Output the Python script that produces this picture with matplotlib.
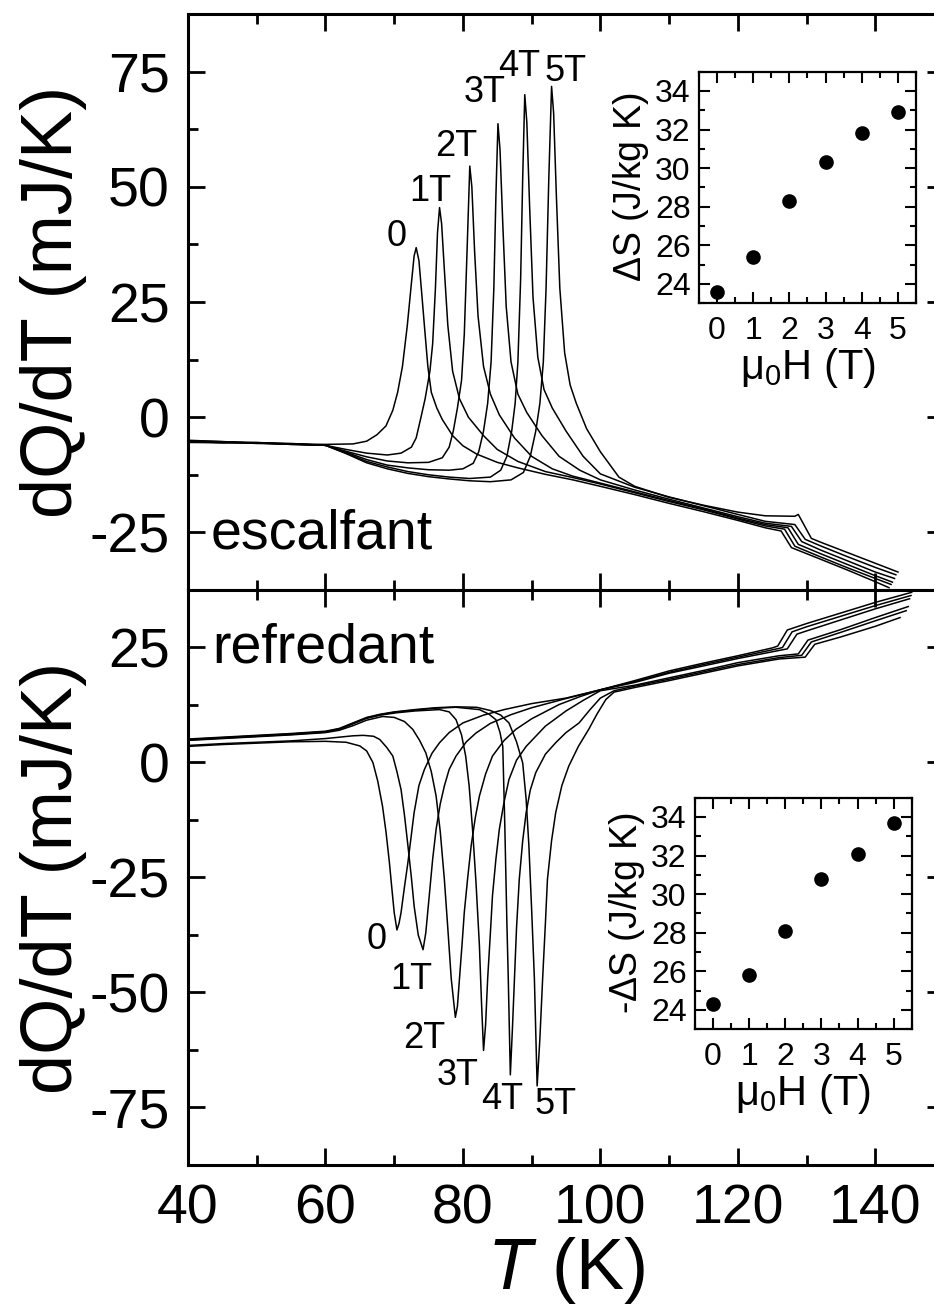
import matplotlib
matplotlib.use('Agg')
import matplotlib.pyplot as plt
from matplotlib.ticker import MultipleLocator

plt.rcParams['font.family'] = ['Liberation Sans', 'DejaVu Sans']
plt.rcParams['mathtext.fontset'] = 'custom'
plt.rcParams['mathtext.rm'] = 'Liberation Sans'
plt.rcParams['mathtext.it'] = 'Liberation Sans:italic'
plt.rcParams['axes.unicode_minus'] = False

# ---- heating (escalfant), dQ/dT in mJ/K vs T in K ----
heat_T_0 = [40, 45, 50, 55, 60, 64, 66, 67.5, 68.8, 69.8, 70.5, 71.2, 71.9, 72.5, 72.9, 73.2,
            73.6, 74.0, 74.4, 74.9, 75.4, 76.2, 77.0, 78.5, 80, 82, 85, 88, 92, 96, 100, 105,
            110, 115, 120, 124, 126.3, 127.8, 132, 136, 140, 142]
heat_Q_0 = [-5.3, -5.5, -5.6, -5.8, -5.9, -5.8, -5.2, -3.8, -1.9, 1.5, 5.4, 11, 19.8, 29, 35, 36.8,
            34, 27, 19.8, 11, 5.4, 2.0, -0.5, -4.0, -6.2, -8.0, -9.8, -11.0, -12.4, -13.6, -15.0, -16.8,
            -18.7, -20.5, -22.4, -24.0, -24.7, -28.3, -30.8, -33.2, -35.7, -37.0]

heat_T_1 = [40, 45, 50, 55, 60, 63, 66, 69, 71, 72.5, 73.2, 73.9, 74.5, 75.2, 75.6, 76.0, 76.3,
            76.6, 76.9, 77.3, 77.8, 78.5, 79.5, 80.8, 83, 85, 88, 92, 96, 100, 105, 110, 115, 120,
            124, 126.8, 128.3, 132, 136, 140, 142.3]
heat_Q_1 = [-5.2, -5.4, -5.6, -5.8, -6.1, -7.0, -7.8, -8.2, -7.8, -6.5, -4.5, 0, 4, 10, 16, 28, 40,
            45.5, 42, 32, 20, 10, 4, 0, -4, -7, -9.6, -11.8, -13.1, -14.5, -16.4, -18.3, -20.1, -22.1,
            -23.6, -24.3, -28.0, -30.3, -32.7, -35.0, -36.3]

heat_T_2 = [40, 45, 50, 55, 60, 63, 66, 69, 72, 75, 77, 78, 78.6, 79.2, 79.8, 80.2, 80.6, 81.0,
            81.3, 81.7, 82.2, 83, 84, 85.3, 87.5, 90, 93, 96, 100, 105, 110, 115, 120, 124, 127.3,
            128.8, 132, 136, 140, 142.5]
heat_Q_2 = [-5.0, -5.3, -5.5, -5.7, -6.1, -7.4, -8.6, -9.5, -9.9, -9.8, -8.8, -6.5, -3, 2, 8, 18,
            36, 54.5, 50, 36, 22, 11, 5, 0.5, -4.5, -8.5, -11.2, -12.8, -14.3, -16.2, -18.1, -19.9,
            -21.9, -23.3, -24.0, -27.6, -29.6, -32.0, -34.4, -35.8]

heat_T_3 = [40, 45, 50, 55, 60, 63, 66, 69, 72, 75, 78, 80, 81.5, 82.3, 83.0, 83.6, 84.1, 84.5,
            84.8, 85.1, 85.4, 85.8, 86.3, 87.0, 88, 89.3, 91.5, 94, 97, 100, 105, 110, 115, 120,
            124, 127.8, 129.3, 132, 136, 140, 142.8]
heat_Q_3 = [-5.4, -5.6, -5.5, -5.9, -6.1, -7.6, -9.2, -10.4, -11.0, -11.4, -11.5, -11.2, -10, -7.5,
            -3, 3, 12, 28, 48, 63.7, 58, 42, 24, 12, 5, 1, -4, -8.5, -11.5, -13.6, -15.8, -17.8,
            -19.7, -21.6, -23.0, -23.7, -27.0, -28.8, -31.2, -33.6, -35.0]

heat_T_4 = [40, 45, 50, 55, 60, 63, 66, 69, 72, 75, 78, 81, 84, 85.5, 86.4, 87.1, 87.6, 88.0,
            88.4, 88.7, 89.0, 89.3, 89.7, 90.2, 90.9, 91.8, 93, 95, 97.5, 100, 105, 110, 115, 120,
            124, 128.3, 129.8, 132, 136, 140, 143]
heat_Q_4 = [-5.1, -5.3, -5.7, -5.8, -6.1, -7.8, -9.6, -10.8, -11.8, -12.5, -13.0, -13.3, -13.0,
            -11.5, -8.5, -3, 3, 12, 30, 52, 70, 64, 46, 26, 13, 6, 2, -3, -8.5, -12.3, -15.2, -17.3,
            -19.2, -21.1, -22.6, -23.3, -26.5, -27.9, -30.3, -32.6, -34.2]

heat_T_5 = [40, 45, 50, 55, 60, 63, 66, 69, 72, 75, 78, 81, 84, 87, 88.8, 89.8, 90.6, 91.2, 91.7,
            92.1, 92.5, 92.9, 93.2, 93.6, 94.1, 94.8, 95.6, 96.5, 98, 100, 102.7, 105, 110, 115,
            120, 124, 128.3, 128.8, 130.7, 132, 136, 140, 143.3]
heat_Q_5 = [-5.5, -5.4, -5.6, -5.9, -6.1, -7.9, -9.9, -11.2, -12.2, -12.9, -13.4, -13.8, -14.0,
            -13.6, -12, -8.5, -3, 3, 12, 28, 52, 71.8, 66, 48, 28, 14, 7, 3, -2.5, -7.5, -13, -15.0,
            -17.4, -19.1, -20.6, -21.4, -21.5, -21.1, -26.3, -27.1, -29.4, -31.7, -33.6]

# ---- cooling (refredant) ----
cool_T_0 = [40, 45, 50, 55, 60, 63, 65, 66, 66.9, 67.6, 68.3, 68.8, 69.3, 69.7, 70.0, 70.4, 70.7,
            71.0, 71.5, 72.0, 72.9, 73.6, 74.4, 75.5, 76.6, 78, 80, 83, 86, 90, 95, 100, 105, 110,
            115, 120, 125, 125.8, 127.2, 130, 135, 140, 145.3]
cool_Q_0 = [3.5, 3.9, 4.2, 4.5, 4.6, 4.4, 3.6, 2.5, 0, -4, -9.5, -15, -21.7, -28, -32.6, -36.4, -35,
            -32.6, -27, -21.7, -10.9, -5, -1.5, 2, 4.3, 6.5, 8.6, 10.3, 11.5, 12.8, 14.0, 15.8, 17.8,
            19.9, 21.6, 23.2, 24.9, 25.3, 28.8, 30.2, 32.5, 34.8, 37.0]

cool_T_1 = [40, 45, 50, 55, 60, 62, 64, 65.5, 67, 67.9, 68.9, 69.8, 70.4, 71.0, 71.5, 72.0, 72.5,
            72.9, 73.5, 74.2, 74.6, 75.1, 75.6, 76.1, 76.7, 77.3, 78, 79, 80.5, 81.9, 84, 87, 90, 95,
            100, 105, 110, 115, 120, 126, 126.5, 127.9, 130, 135, 140, 145.2]
cool_Q_1 = [3.7, 4.1, 4.4, 4.7, 5.2, 5.5, 5.8, 5.9, 5.7, 5.0, 3.3, 1.4, -2, -5.9, -11.5, -18.1, -25,
            -31.2, -37.5, -40.7, -37, -29, -21, -14.5, -9, -5.1, -1.5, 1.4, 4.5, 6.4, 8.5, 10.4, 11.9,
            13.9, 15.8, 17.6, 19.6, 21.3, 22.9, 24.8, 25.0, 28.4, 29.5, 31.8, 34.1, 36.3]

cool_T_2 = [40, 45, 50, 55, 60, 62, 64, 66, 68.3, 70, 71.5, 72.7, 73.7, 74.6, 75.4, 76.1, 76.7,
            77.3, 77.8, 78.3, 78.9, 79.2, 79.5, 79.9, 80.2, 80.7, 81.2, 81.8, 82.4, 83.3, 84.3, 86,
            87.7, 90, 94, 97, 100, 105, 110, 115, 120, 126.5, 127.2, 128.6, 130, 135, 140, 145]
cool_Q_2 = [4.8, 5.2, 5.6, 6.0, 6.5, 7.0, 8.0, 9.2, 10.0, 9.8, 8.9, 7.2, 4.8, 2.1, -2, -7.3, -15,
            -25.4, -36, -47, -55.4, -53, -47, -39, -32.6, -25, -18.1, -12, -7.3, -2.5, 1.4, 4.8,
            7.2, 9.5, 12.6, 14.3, 15.8, 17.4, 19.4, 21.0, 22.6, 24.5, 24.7, 27.9, 28.6, 31.0, 33.4,
            35.6]

cool_T_3 = [40, 45, 50, 55, 60, 62, 64, 66, 68, 70.3, 73, 76.6, 78, 79, 79.8, 80.4, 80.9, 81.4,
            81.9, 82.4, 82.7, 83.0, 83.3, 83.6, 84.0, 84.3, 84.8, 85.3, 86.0, 86.7, 87.8, 89.2, 92,
            95, 97.5, 100, 105, 110, 115, 120, 126, 128.8, 130.2, 135, 140, 144.8]
cool_Q_3 = [4.9, 5.3, 5.7, 6.1, 6.6, 7.2, 8.4, 9.6, 10.3, 10.8, 11.2, 11.5, 11.0, 9.3, 6, 1.4, -5,
            -14.5, -26, -39.8, -52, -62.6, -57, -47, -37, -29, -21, -14.5, -8.5, -3.7, 0.5, 3.5,
            7.9, 11.2, 13.5, 15.6, 16.8, 18.4, 20.0, 21.7, 23.2, 23.6, 26.6, 28.9, 31.5, 33.9]

cool_T_4 = [40, 45, 50, 55, 60, 62, 64, 66, 68, 70, 73, 76, 79, 82.4, 83.8, 84.8, 85.4, 85.8,
            86.1, 86.4, 86.6, 86.9, 87.2, 87.5, 87.8, 88.2, 88.7, 89.2, 89.8, 90.6, 92, 93.5, 95,
            96.9, 98.5, 100, 102, 105, 110, 115, 120, 126, 129.3, 130.7, 135, 140, 144.5]
cool_Q_4 = [5.0, 5.4, 5.8, 6.2, 6.7, 7.3, 8.5, 9.7, 10.4, 10.9, 11.4, 11.8, 12.0, 11.5, 10.5, 9.3,
            6.5, 3.5, -14, -35, -47, -67.9, -58, -47, -36, -25.4, -17, -10.9, -6, -2.2, 1.8, 4.3,
            6.5, 8.6, 11.5, 14.0, 15.6, 16.6, 18.1, 19.7, 21.3, 22.8, 23.3, 26.2, 28.3, 30.8, 33.0]

cool_T_5 = [40, 45, 50, 55, 60, 62, 64, 66, 68, 70, 73, 76, 79, 82, 84, 85.5, 86.7, 87.8, 88.7,
            89.2, 89.6, 90.0, 90.4, 90.8, 91.2, 91.6, 92.0, 92.3, 92.9, 93.5, 94.4, 95.4, 96.8,
            98.3, 99.5, 100.8, 102, 105, 110, 115, 120, 126, 129.8, 131.2, 135, 140, 143.6]
cool_Q_5 = [5.1, 5.5, 5.9, 6.3, 6.8, 7.4, 8.6, 9.8, 10.5, 11.0, 11.5, 11.9, 12.1, 12.0, 11.3, 10.3,
            8.6, 4.5, -0.1, -8, -18.1, -32, -47, -70.3, -60, -47, -35, -25.4, -17, -10.9, -5, -0.8,
            3.5, 7.2, 10.5, 13.7, 15.3, 16.3, 17.8, 19.4, 21.0, 22.5, 22.9, 25.7, 27.3, 29.6, 31.5]

field_labels = ['0', '1T', '2T', '3T', '4T', '5T']
heat_label_T = [70.3, 75.2, 79.0, 83.1, 88.2, 95.0]
heat_label_Q = [39.3, 49.0, 58.8, 70.4, 76.2, 75.0]
cool_label_T = [67.4, 72.5, 74.4, 79.2, 85.7, 93.5]
cool_label_Q = [-38.4, -47.1, -60.1, -68.0, -73.2, -74.3]

# entropy change vs field (insets)
field_H = [0, 1, 2, 3, 4, 5]
dS_heat = [23.6, 25.4, 28.3, 30.3, 31.8, 32.9]
dS_cool = [24.3, 25.8, 28.1, 30.8, 32.1, 33.7]

heat_T = [heat_T_0, heat_T_1, heat_T_2, heat_T_3, heat_T_4, heat_T_5]
heat_Q = [heat_Q_0, heat_Q_1, heat_Q_2, heat_Q_3, heat_Q_4, heat_Q_5]
cool_T = [cool_T_0, cool_T_1, cool_T_2, cool_T_3, cool_T_4, cool_T_5]
cool_Q = [cool_Q_0, cool_Q_1, cool_Q_2, cool_Q_3, cool_Q_4, cool_Q_5]


def style_main(ax):
    for s in ax.spines.values():
        s.set_linewidth(2.2)
    ax.tick_params(which='both', direction='in', top=True, right=True, width=2.0)
    ax.tick_params(which='major', length=12)
    ax.tick_params(which='minor', length=7)
    ax.tick_params(axis='y', labelsize=40, pad=13)
    ax.tick_params(axis='x', labelsize=40, pad=13)
    ax.xaxis.set_major_locator(MultipleLocator(20))
    ax.xaxis.set_minor_locator(MultipleLocator(10))
    ax.yaxis.set_major_locator(MultipleLocator(25))
    ax.yaxis.set_minor_locator(MultipleLocator(12.5))
    ax.set_xlim(40, 150)


def style_inset(ax, ylabel):
    for s in ax.spines.values():
        s.set_linewidth(1.6)
    ax.tick_params(which='both', direction='in', top=True, right=True, width=1.5,
                   labelsize=23)
    ax.tick_params(which='major', length=8)
    ax.tick_params(which='minor', length=4.5)
    ax.tick_params(axis='x', pad=9)
    ax.tick_params(axis='y', pad=6)
    ax.xaxis.set_major_locator(MultipleLocator(1))
    ax.xaxis.set_minor_locator(MultipleLocator(0.5))
    ax.yaxis.set_major_locator(MultipleLocator(2))
    ax.yaxis.set_minor_locator(MultipleLocator(1))
    ax.set_xlim(-0.5, 5.5)
    ax.set_ylim(23, 35)
    ax.set_xlabel(r'$\mathregular{\mu_0}$H (T)', fontsize=30, labelpad=0)
    ax.set_ylabel(ylabel, fontsize=27, labelpad=3)


fig = plt.figure(figsize=(9.34, 13.14), dpi=100)
ax1 = fig.add_axes([0.2013, 0.551, 0.8094, 0.4383])
ax2 = fig.add_axes([0.2013, 0.1134, 0.8094, 0.4376])

for i in range(6):
    ax1.plot(heat_T[i], heat_Q[i], color='black', lw=1.1)
    ax1.text(heat_label_T[i], heat_label_Q[i], field_labels[i], fontsize=26,
             ha='center', va='center')
    ax2.plot(cool_T[i], cool_Q[i], color='black', lw=1.1)
    ax2.text(cool_label_T[i], cool_label_Q[i], field_labels[i], fontsize=26,
             ha='center', va='center')

style_main(ax1)
style_main(ax2)
ax1.set_ylim(-37.5, 87.5)
ax2.set_ylim(-87.5, 37.5)
ax1.tick_params(axis='x', labelbottom=False)
ax1.set_ylabel('dQ/dT (mJ/K)', fontsize=52, labelpad=2)
ax2.set_ylabel('dQ/dT (mJ/K)', fontsize=52, labelpad=2)
ax2.set_xlabel(r'$T$ (K)', fontsize=52, labelpad=0)

ax1.text(43.3, -28.6, 'escalfant', fontsize=40, ha='left', va='baseline')
ax2.text(43.5, 21.7, 'refredant', fontsize=40, ha='left', va='baseline')

ins1 = fig.add_axes([0.7484, 0.7692, 0.2323, 0.1763])
ins1.plot(field_H, dS_heat, 'o', color='black', ms=9.5)
style_inset(ins1, r'$\mathregular{\Delta}$S (J/kg K)')

ins2 = fig.add_axes([0.7441, 0.2167, 0.232, 0.1763])
ins2.plot(field_H, dS_cool, 'o', color='black', ms=9.5)
style_inset(ins2, r'-$\mathregular{\Delta}$S (J/kg K)')

fig.savefig('out.png', dpi=100)
